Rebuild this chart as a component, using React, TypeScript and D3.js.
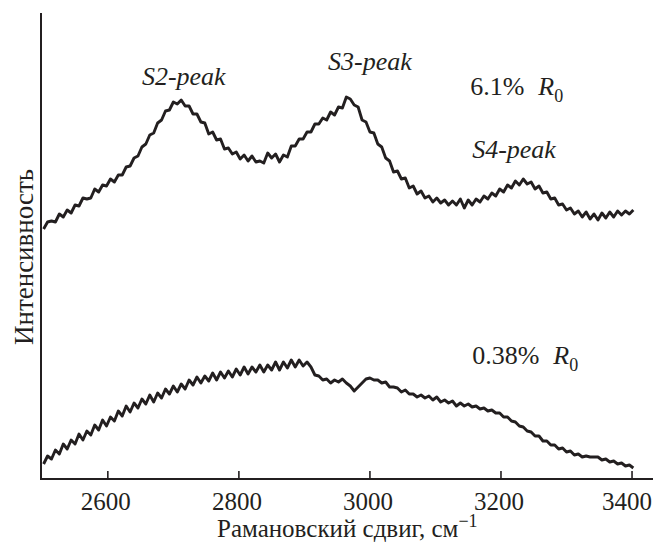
import React from 'react';
import * as d3 from 'd3';

// Raman shift grid (cm^-1)
const wavenumbers: number[] = d3.range(2502, 3403, 6);

// 6.1% R0 spectrum (arbitrary intensity units)
const highRankSpectrum: number[] = [
  250,257,258,257,265,262,269,266,274,273,281,280,281,290,287,294,293,300,297,304,
  304,312,313,321,323,332,335,344,346,356,359,368,369,377,375,379,373,373,365,365,
  357,356,345,347,339,340,330,331,325,327,320,324,318,323,317,318,316,326,321,325,
  317,324,322,333,333,340,340,347,347,355,355,361,359,367,364,372,371,382,380,374,
  372,359,357,347,346,335,332,321,318,307,308,300,301,291,293,285,288,281,283,277,
  281,276,279,274,278,274,280,271,279,274,280,277,283,280,286,283,290,287,294,291,
  298,294,300,295,297,290,293,286,287,280,281,274,275,269,271,265,268,262,267,260,
  265,259,266,261,267,262,268,264,268,265,269
];

// 0.38% R0 spectrum
const lowRankSpectrum: number[] = [
  15,23,20,29,25,35,30,39,35,45,39,48,44,54,49,59,53,62,58,68,
  63,73,67,76,71,80,75,84,77,86,81,90,85,93,87,95,90,99,94,102,
  96,103,98,106,99,107,101,108,102,110,104,112,105,112,107,114,107,114,109,117,
  109,117,111,119,112,119,113,117,112,104,103,99,100,96,99,97,100,96,93,88,
  92,96,100,101,99,99,96,97,92,92,91,87,89,85,85,82,84,81,83,79,
  82,77,79,76,78,73,76,73,75,72,73,70,71,68,69,66,66,62,62,58,
  57,53,52,48,47,43,43,38,38,34,34,30,31,27,28,24,25,22,23,22,
  22,22,19,20,17,18,15,16,13,14,11
];

const xTicks: number[] = [2600, 2800, 3000, 3200, 3400];
const xDomain: [number, number] = [2498, 3432];
const yDomain: [number, number] = [0, 466];

const xTitle = 'Рамановский сдвиг, см';
const xTitleSup = '−1';
const yTitle = 'Интенсивность';
const peakLabels = [
  { text: 'S2-peak', wn: 2652, level: 394 },
  { text: 'S3-peak', wn: 2936, level: 409 },
  { text: 'S4-peak', wn: 3156, level: 321 },
];
const seriesLabels = [
  { value: '6.1%', wn: 3153, level: 384 },
  { value: '0.38%', wn: 3156, level: 115 },
];

const FONT = '"Liberation Serif", "Times New Roman", Times, serif';

export default function App() {
  const W = 654, H = 543;
  const x = d3.scaleLinear().domain(xDomain).range([41, 653]);
  const y = d3.scaleLinear().domain(yDomain).range([479, 13]);
  const line = d3.line<number>()
    .x((_, i) => x(wavenumbers[i]))
    .y((d) => y(d));

  return (
    <svg width={W} height={H} style={{ position: 'absolute', left: 0, top: 0, background: '#fff' }}
      fontFamily={FONT}>
      <rect width={W} height={H} fill="#fff" />
      {/* axes */}
      <line x1={x(xDomain[0])} x2={x(xDomain[0])} y1={y(yDomain[1])} y2={y(0)} stroke="#231f20" strokeWidth={2} />
      <line x1={x(xDomain[0]) - 1} x2={x(xDomain[1])} y1={y(0)} y2={y(0)} stroke="#231f20" strokeWidth={2} />
      {xTicks.map((t, i) => {
        const last = i === xTicks.length - 1;
        return (
          <g key={t}>
            <line x1={x(t)} x2={x(t)} y1={y(0)} y2={y(0) - 8} stroke="#231f20" strokeWidth={1.6} />
            <text x={last ? W - 2 : x(t) - 2} y={510} textAnchor={last ? 'end' : 'middle'} fontSize={25} fill="#231f20">{t}</text>
          </g>
        );
      })}
      <text x={217} y={537} fontSize={25} fill="#231f20">
        {xTitle}
        <tspan fontSize={18} dy={-10}>{xTitleSup}</tspan>
      </text>
      <text transform={`translate(33,257) rotate(-90)`} textAnchor="middle" fontSize={27} fill="#231f20">{yTitle}</text>

      {/* spectra */}
      <path d={line(highRankSpectrum) || ''} fill="none" stroke="#231f20" strokeWidth={2.9} strokeLinejoin="round" />
      <path d={line(lowRankSpectrum) || ''} fill="none" stroke="#231f20" strokeWidth={2.9} strokeLinejoin="round" />

      {/* labels */}
      {peakLabels.map((p) => (
        <text key={p.text} x={x(p.wn)} y={y(p.level)} fontSize={26} fontStyle="italic" fill="#231f20">{p.text}</text>
      ))}
      {seriesLabels.map((s) => (
        <text key={s.value} x={x(s.wn)} y={y(s.level)} fontSize={26} fill="#231f20">
          {s.value}
          <tspan dx={14} fontStyle="italic">R</tspan>
          <tspan fontSize={18} dy={7}>0</tspan>
        </text>
      ))}
    </svg>
  );
}
